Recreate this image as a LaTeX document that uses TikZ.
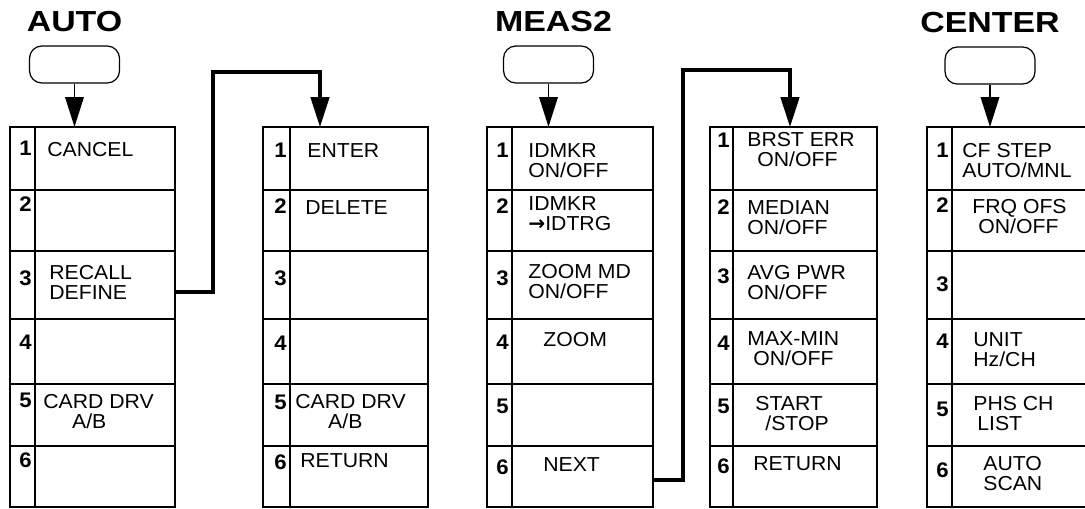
\documentclass[tikz,border=0pt]{standalone}
\usepackage{fontspec}
\setmainfont[FakeStretch=1.05]{Liberation Sans}
\newfontfamily\arrowfont{DejaVu Sans}
\usetikzlibrary{arrows.meta,positioning}

\begin{document}
\begin{tikzpicture}[x=0.02cm, y=-0.02cm,
    softkey/.style={draw, line width=0.7pt, rounded corners=7pt, minimum width=1.8cm, minimum height=0.74cm, inner sep=0pt},
    keyname/.style={font=\fontsize{16.5}{19}\selectfont\bfseries\addfontfeature{FakeStretch=1.17}, inner sep=0pt},
    keynum/.style={font=\fontsize{12}{13}\selectfont\bfseries, anchor=east, inner sep=0pt},
    keytext/.style={font=\fontsize{11.5}{11.4}\selectfont, anchor=north west, align=left, inner sep=0pt},
    frame/.style={line width=0.6pt},
    feed/.style={line width=1.1pt, -{Triangle[length=17pt,width=10.5pt]}},
    link/.style={line width=1.8pt, -{Triangle[length=17pt,width=10.5pt]}}]
    \useasboundingbox (0,0) rectangle (1085,508);
    \clip (0,0) rectangle (1085,508);

    % soft keys with their names
    \node[softkey] (autokey) at (74.5,64.5) {};
    \node[keyname, above=0.26cm of autokey] (autoname) {AUTO};
    \node[softkey] (measkey) at (548.5,64.5) {};
    \node[keyname, above=0.26cm of measkey, xshift=0.1cm] (measname) {MEAS2};
    \node[softkey] (centerkey) at (990,65.5) {};
    \node[keyname, above=0.26cm of centerkey] (centername) {CENTER};

    % menu frames
    \foreach \l/\d/\r/\m in {10/35/175/automenu, 263/290/428/recallmenu, 487/512/653/measmenu, 710/733/877/nextmenu, 927/952/1100/centermenu}{
        \draw[frame] (\l,127) rectangle (\r,507);
        \draw[frame] (\d,127) -- (\d,507);
        \foreach \y in {190,251,319,384,446}
            \draw[frame] (\l,\y) -- (\r,\y);
        \coordinate (\m) at (\l,127);
    }

    % AUTO menu
    \foreach \n/\ry/\ny in {1/127/21, 2/190/14, 3/251/27, 4/319/23, 5/384/16, 6/446/14}
        \node[keynum] (auto-n\n) at ({32},{\ry+\ny}) {\n};
    \foreach \n/\ry/\dx/\dy/\t in {1/127/12/15/CANCEL, 3/251/14/14/{RECALL\\DEFINE}, 5/384/8/10/{CARD DRV\\\hspace*{16.4pt}A/B}}
        \node[keytext] (auto-t\n) at ({35+\dx},{\ry+\dy}) {\t};

    % RECALL DEFINE menu
    \foreach \n/\ry/\ny in {1/127/23, 2/190/16, 3/251/27, 4/319/24, 5/384/18, 6/446/16}
        \node[keynum] (recall-n\n) at ({287},{\ry+\ny}) {\n};
    \foreach \n/\ry/\dx/\dy/\t in {1/127/17/16/ENTER, 2/190/15/10/DELETE, 5/384/5/10/{CARD DRV\\\hspace*{18.7pt}A/B}, 6/446/10/7/RETURN}
        \node[keytext] (recall-t\n) at ({290+\dx},{\ry+\dy}) {\t};

    % MEAS2 menu
    \foreach \n/\ry/\ny in {1/127/23, 2/190/16, 3/251/27, 4/319/23, 5/384/22, 6/446/21}
        \node[keynum] (meas-n\n) at ({509},{\ry+\ny}) {\n};
    \foreach \n/\ry/\dx/\dy/\t in {1/127/16/16/{IDMKR\\ON/OFF}, 2/190/16/6/{IDMKR\\{\arrowfont\bfseries →}IDTRG}, 3/251/16/13/{ZOOM MD\\ON/OFF}, 4/319/31/13/ZOOM, 6/446/31/11/NEXT}
        \node[keytext] (meas-t\n) at ({512+\dx},{\ry+\dy}) {\t};

    % NEXT menu
    \foreach \n/\ry/\ny in {1/127/13, 2/190/17, 3/251/25, 4/319/24, 5/384/22, 6/446/20}
        \node[keynum] (next-n\n) at ({730},{\ry+\ny}) {\n};
    \foreach \n/\ry/\dx/\dy/\t in {1/127/14/5/{BRST ERR\\\hspace*{5.7pt}ON/OFF}, 2/190/14/10/{MEDIAN\\ON/OFF}, 3/251/14/14/{AVG PWR\\ON/OFF}, 4/319/14/12/{MAX-MIN\\\hspace*{3.4pt}ON/OFF}, 5/384/22/12/{START\\\hspace*{5.7pt}/STOP}, 6/446/20/10/RETURN}
        \node[keytext] (next-t\n) at ({733+\dx},{\ry+\dy}) {\t};

    % CENTER menu
    \foreach \n/\ry/\ny in {1/127/23, 2/190/15, 3/251/33, 4/319/22, 5/384/25, 6/446/24}
        \node[keynum] (center-n\n) at ({949},{\ry+\ny}) {\n};
    \foreach \n/\ry/\dx/\dy/\t in {1/127/10/16/{CF STEP\\AUTO/MNL}, 2/190/20/9/{FRQ OFS\\\hspace*{3.4pt}ON/OFF}, 4/319/21/13/{UNIT\\Hz/CH}, 5/384/21/12/{PHS CH\\\hspace*{2.3pt}LIST}, 6/446/31/10/{AUTO\\SCAN}}
        \node[keytext] (center-t\n) at ({952+\dx},{\ry+\dy}) {\t};

    % key to menu
    \draw[feed] (autokey) -- (autokey |- automenu);
    \draw[feed] (measkey) -- (measkey |- measmenu);
    \draw[feed] (centerkey) -- (centerkey |- centermenu);

    % sub menus
    \coordinate (recallout) at (175,292);
    \coordinate (recallbend) at (213,72);
    \coordinate (recallin) at (320,127);
    \draw[link] (recallout) -| (recallbend) -| (recallin);
    \coordinate (nextout) at (653,480);
    \coordinate (nextbend) at (683,70);
    \coordinate (nextin) at (790,127);
    \draw[link] (nextout) -| (nextbend) -| (nextin);
\end{tikzpicture}
\end{document}
